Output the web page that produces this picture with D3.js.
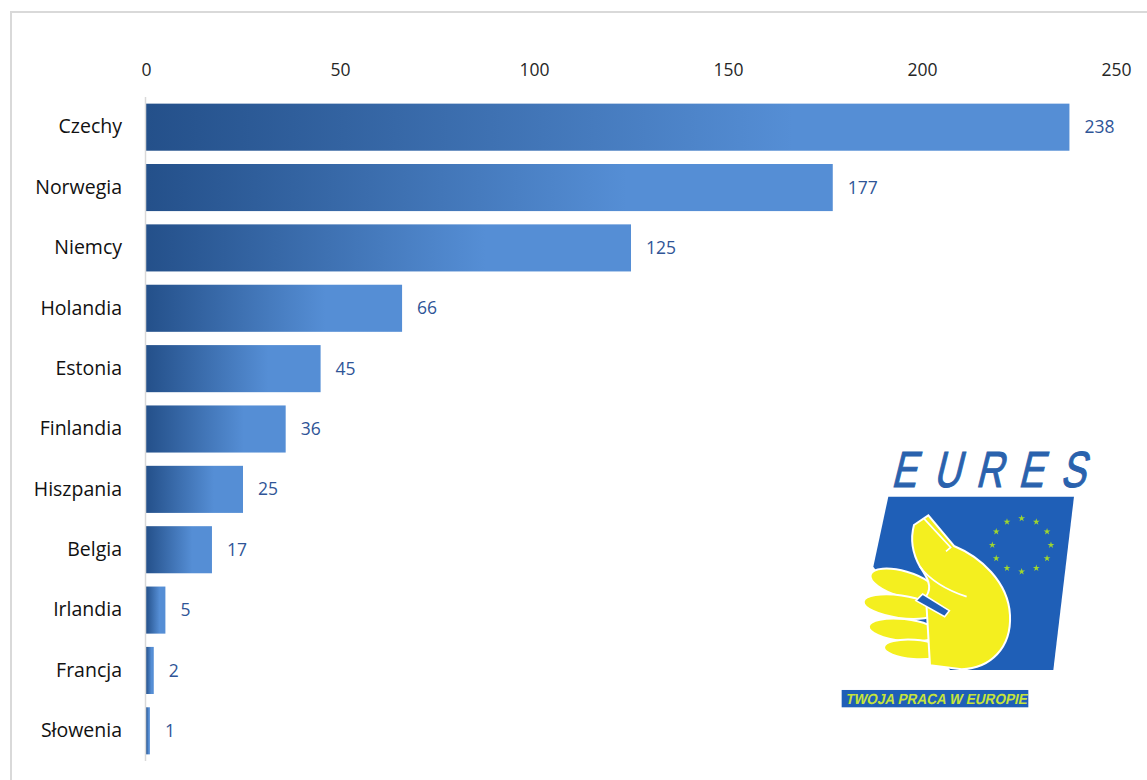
<!DOCTYPE html>
<html>
<head>
<meta charset="utf-8">
<script src="https://cdn.jsdelivr.net/npm/d3@7"></script>
<style>
  body { margin: 0; background: #fff; }
  svg { display: block; font-family: "Open Sans", sans-serif; }
</style>
</head>
<body>
<div id="chart"></div>
<script>
// Countries and counts
var countries = ["Czechy", "Norwegia", "Niemcy", "Holandia", "Estonia", "Finlandia",
                 "Hiszpania", "Belgia", "Irlandia", "Francja", "Słowenia"];
var counts = [238, 177, 125, 66, 45, 36, 25, 17, 5, 2, 1];
var ticks = [0, 50, 100, 150, 200, 250];

var width = 1147, height = 780;

var svg = d3.select("#chart").append("svg")
    .attr("width", width)
    .attr("height", height);

// chart frame (runs off the right and bottom edges)
svg.append("rect")
    .attr("x", 11).attr("y", 12)
    .attr("width", 1200).attr("height", 800)
    .attr("fill", "none")
    .attr("stroke", "#d9d9d9")
    .attr("stroke-width", 2);

// gradient used for every bar, dark on the left
var grad = svg.append("defs").append("linearGradient")
    .attr("id", "barGrad")
    .attr("x1", "0").attr("x2", "1").attr("y1", "0").attr("y2", "0");
grad.append("stop").attr("offset", "0").attr("stop-color", "#24508a");
grad.append("stop").attr("offset", "0.7").attr("stop-color", "#558ed5");
grad.append("stop").attr("offset", "1").attr("stop-color", "#558ed5");

var x = d3.scaleLinear().domain([0, 250]).range([146, 1116]);
var y = d3.scaleBand().domain(countries).range([97, 761]).paddingInner(0.22).paddingOuter(0.11);

// top axis labels
var xAxis = svg.append("g")
    .attr("transform", "translate(0,70)")
    .call(d3.axisTop(x).tickValues(ticks).tickSize(0).tickPadding(0));
xAxis.select(".domain").remove();
xAxis.selectAll("text")
    .attr("dy", "0.35em")
    .style("font-family", "Open Sans, sans-serif")
    .style("font-size", "17.5px")
    .attr("fill", "#262626");

// bars
svg.selectAll("rect.bar")
    .data(counts)
    .enter().append("rect")
    .attr("class", "bar")
    .attr("x", x(0))
    .attr("y", function(d, i) { return y(countries[i]); })
    .attr("width", function(d) { return x(d) - x(0); })
    .attr("height", y.bandwidth())
    .attr("fill", "url(#barGrad)");

// category axis line
svg.append("line")
    .attr("x1", 145.5).attr("x2", 145.5)
    .attr("y1", 97).attr("y2", 761)
    .attr("stroke", "#d9d9d9")
    .attr("stroke-width", 1.5);

// category labels
var yAxis = svg.append("g")
    .attr("transform", "translate(122,0)")
    .call(d3.axisLeft(y).tickSize(0).tickPadding(0));
yAxis.select(".domain").remove();
yAxis.selectAll("text")
    .style("font-family", "Open Sans, sans-serif")
    .style("font-size", "19.5px")
    .attr("fill", "#111");

// value labels
svg.selectAll("text.val")
    .data(counts)
    .enter().append("text")
    .attr("class", "val")
    .text(function(d) { return d; })
    .attr("x", function(d) { return x(d) + 15; })
    .attr("y", function(d, i) { return y(countries[i]) + y.bandwidth() / 2; })
    .attr("dy", "0.35em")
    .style("font-size", "17.5px")
    .attr("fill", "#2f5597");

// EURES logo, drawn roughly from shapes
var logo = svg.append("g").attr("transform", "translate(820,440) scale(0.3333)");

var letters = ["E", "U", "R", "E", "S"];
logo.selectAll("text.eures")
    .data(letters)
    .enter().append("text")
    .attr("class", "eures")
    .text(function(d) { return d; })
    .attr("transform", function(d, i) { return "translate(" + (212 + i * 127) + ",142) skewX(-14) scale(0.78,1.05)"; })
    .style("font-family", "Liberation Sans, sans-serif")
    .style("font-size", "145px")
    .attr("fill", "#2a62ad")
    .attr("stroke", "#2a62ad")
    .attr("stroke-width", 3);

var blue = "#1f5fb7";
logo.append("path")
    .attr("d", "M205,170 L762,170 L700,690 L390,690 L160,380 Z")
    .attr("fill", blue);

// circle of stars
var starPts = d3.range(12).map(function(i) {
  var a = i / 12 * Math.PI * 2;
  return [605 + 88 * Math.sin(a), 315 - 80 * Math.cos(a)];
});
var star = d3.symbol().type(d3.symbolStar).size(130);
logo.selectAll("path.star")
    .data(starPts)
    .enter().append("path")
    .attr("class", "star")
    .attr("d", star)
    .attr("transform", function(d) { return "translate(" + d[0] + "," + d[1] + ")"; })
    .attr("fill", "#9fd62e");

var yellow = "#f4ef1f";
// fingers
var fingers = [[250, 432, 102, 38, 16], [240, 500, 110, 34, 8], [250, 570, 104, 33, 6], [282, 628, 90, 29, 4]];
logo.selectAll("ellipse.finger")
    .data(fingers)
    .enter().append("ellipse")
    .attr("class", "finger")
    .attr("cx", function(d) { return d[0]; })
    .attr("cy", function(d) { return d[1]; })
    .attr("rx", function(d) { return d[2]; })
    .attr("ry", function(d) { return d[3]; })
    .attr("transform", function(d) { return "rotate(" + d[4] + "," + d[0] + "," + d[1] + ")"; })
    .attr("fill", yellow)
    .attr("stroke", "#fff")
    .attr("stroke-width", 6);

// thumb and palm
logo.append("path")
    .attr("d", "M282,255 L325,226 L402,318 C480,350 565,425 570,525 C575,625 510,685 425,688 " +
               "L330,676 L318,470 C340,440 320,410 300,380 C280,345 270,300 282,255 Z")
    .attr("fill", yellow)
    .attr("stroke", "#fff")
    .attr("stroke-width", 6);

// thumb crease
logo.append("path")
    .attr("d", "M300,380 C330,420 380,450 440,470")
    .attr("fill", "none")
    .attr("stroke", "#fff")
    .attr("stroke-width", 5);

// thumbnail
logo.append("path")
    .attr("d", "M312,236 L392,322 L378,334")
    .attr("fill", "none")
    .attr("stroke", "#fff")
    .attr("stroke-width", 5);

// knuckle notch
logo.append("path")
    .attr("d", "M288,482 L308,462 L388,512 L374,530 Z")
    .attr("fill", blue)
    .attr("stroke", "#fff")
    .attr("stroke-width", 5);

logo.append("rect")
    .attr("x", 65).attr("y", 750)
    .attr("width", 560).attr("height", 52)
    .attr("fill", blue);
logo.append("text")
    .text("TWOJA PRACA W EUROPIE")
    .attr("x", 72).attr("y", 792)
    .attr("textLength", 545)
    .attr("lengthAdjust", "spacingAndGlyphs")
    .attr("transform", "translate(172,0) skewX(-12)")
    .style("font-family", "Liberation Sans, sans-serif")
    .style("font-weight", "bold")
    .style("font-size", "44px")
    .attr("fill", "#c6e43a");
</script>
</body>
</html>
